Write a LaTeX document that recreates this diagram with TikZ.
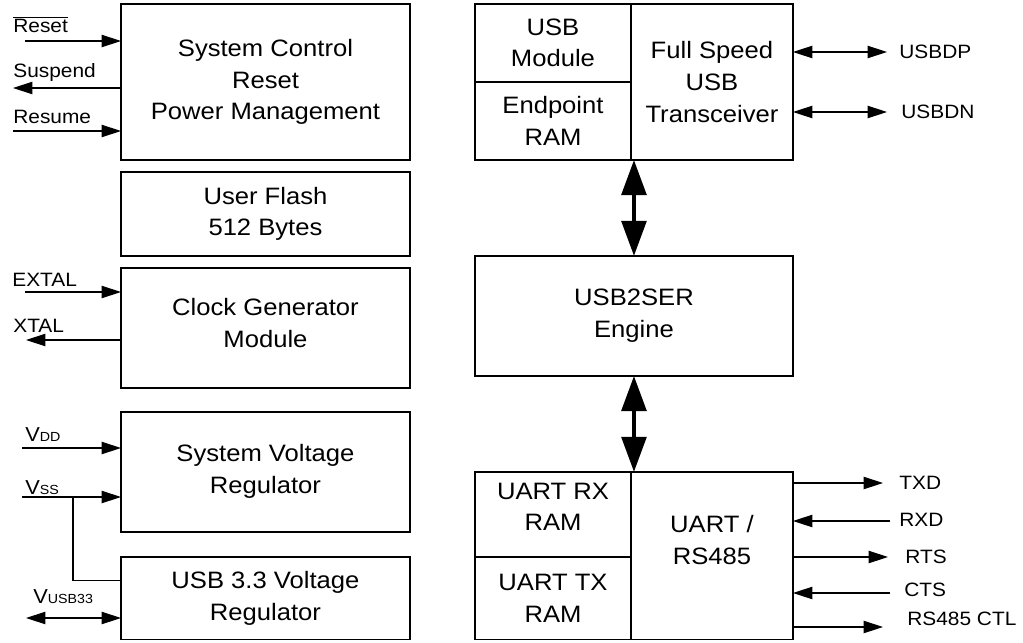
\documentclass[tikz,border=0pt]{standalone}
\usepackage{fontspec}
\setmainfont{Liberation Sans}[FakeStretch=1.08]
\newfontfamily\sigfont{Liberation Sans}[FakeStretch=1.08]
\usepackage{tikz}
\usetikzlibrary{arrows.meta, positioning}
\tikzstyle{blk} = [draw, rectangle, line width=0.7pt, inner sep=0pt, outer sep=0pt,
   align=center, font=\fontsize{13.5}{18}\selectfont]
\tikzstyle{leftBlk} = [blk, minimum width=5.78cm]
\tikzstyle{liftText} = [text depth=#1]
\tikzstyle{sig} = [line width=0.6pt]
\tikzstyle{sigLabel} = [inner sep=0pt, font=\sigfont\fontsize{11}{13}\selectfont]
\tikzstyle{bus} = [line width=2.4pt,
   {Triangle[length=20pt,width=14pt]}-{Triangle[length=20pt,width=14pt]}]
\newcommand{\bigV}[1]{{\fontsize{11.5}{13}\selectfont V}{\fontsize{7.5}{8}\selectfont #1}}

\begin{document}
\begin{tikzpicture}[x=0.02cm, y=-0.02cm, >={Triangle[length=11pt,width=7pt]}]
  \useasboundingbox (0,0) rectangle (1023,642);

  % left column
  \node[leftBlk, anchor=north west, minimum height=3.12cm] (sysctl) at (121,4)
     {System Control\\Reset\\Power Management};
  \node[leftBlk, below=0.24cm of sysctl, minimum height=1.68cm] (flash) {User Flash\\512 Bytes};
  \node[leftBlk, below=0.24cm of flash, minimum height=2.4cm, liftText=0.2cm] (clkgen)
     {Clock Generator\\Module};
  \node[leftBlk, below=0.48cm of clkgen, minimum height=2.4cm, liftText=0.12cm] (sysreg)
     {System Voltage\\Regulator};
  \node[leftBlk, below=0.5cm of sysreg, minimum height=1.66cm] (usbreg) {USB 3.3 Voltage\\Regulator};

  % right column
  \node[blk, anchor=north west, minimum width=3.12cm, minimum height=1.56cm] (usbmod) at (475,4)
     {USB\\Module};
  \node[blk, below=0pt of usbmod, minimum width=3.12cm, minimum height=1.56cm] (eptram) {Endpoint\\RAM};
  \node[blk, right=0pt of usbmod.north east, anchor=north west, minimum width=3.24cm,
     minimum height=3.12cm] (xcvr) {Full Speed\\USB\\Transceiver};
  \node[blk, below=1.92cm of eptram.south west, anchor=north west, minimum width=6.36cm,
     minimum height=2.4cm] (engine) {USB2SER\\Engine};
  \node[blk, below=1.92cm of engine.south west, anchor=north west, minimum width=3.12cm,
     minimum height=1.7cm, liftText=0.3cm] (uartrx) {UART RX\\RAM};
  \node[blk, below=0pt of uartrx, minimum width=3.12cm, minimum height=1.66cm] (uarttx) {UART TX\\RAM};
  \node[blk, right=0pt of uartrx.north east, anchor=north west, minimum width=3.24cm,
     minimum height=3.36cm, liftText=0.64cm] (uart) {UART /\\RS485};

  % internal buses
  \draw[bus] (engine.north |- eptram.south) -- (engine.north);
  \draw[bus] (engine.south) -- (engine.south |- uart.north);

  % free ends of the signals
  \coordinate (rstEnd) at (25,41);
  \coordinate (suspEnd) at (13,88);
  \coordinate (resEnd) at (13,131);
  \coordinate (extalEnd) at (25,292);
  \coordinate (xtalEnd) at (26,340);
  \coordinate (vddEnd) at (22,448);
  \coordinate (vssEnd) at (22,497);
  \coordinate (vssTap) at (73,497);
  \coordinate (vusbEnd) at (26,618);
  \coordinate (dpEnd) at (887,52);
  \coordinate (dnEnd) at (887,112);
  \coordinate (txdEnd) at (883,483);
  \coordinate (rxdEnd) at (890,521);
  \coordinate (rtsEnd) at (888,557);
  \coordinate (ctsEnd) at (890,593);
  \coordinate (ctlEnd) at (883,627);

  % left signals
  \draw[sig,->] (rstEnd) -- (rstEnd -| sysctl.west);
  \draw[sig,->] (suspEnd -| sysctl.west) -- (suspEnd);
  \draw[sig,->] (resEnd) -- (resEnd -| sysctl.west);
  \draw[sig,->] (extalEnd) -- (extalEnd -| clkgen.west);
  \draw[sig,->] (xtalEnd -| clkgen.west) -- (xtalEnd);
  \draw[sig,->] (vddEnd) -- (vddEnd -| sysreg.west);
  \draw[sig,->] (vssEnd) -- (vssEnd -| sysreg.west);
  \draw[sig] (vssTap) |- ([yshift=0.35cm]usbreg.west);
  \draw[sig,<->] (vusbEnd) -- (vusbEnd -| usbreg.west);

  \node[sigLabel, anchor=base west] (rstLbl) at (13,33) {$\overline{\mbox{Reset}}$};
  \node[sigLabel, anchor=base west] (suspLbl) at (13,77) {Suspend};
  \node[sigLabel, anchor=base west] (resLbl) at (13,123) {Resume};
  \node[sigLabel, anchor=base west] (extalLbl) at (12,286) {EXTAL};
  \node[sigLabel, anchor=base west] (xtalLbl) at (13,332) {XTAL};
  \node[sigLabel, anchor=base west] (vddLbl) at (25,441) {\bigV{DD}};
  \node[sigLabel, anchor=base west] (vssLbl) at (25,494) {\bigV{SS}};
  \node[sigLabel, anchor=base west] (vusbLbl) at (33,603) {\bigV{USB33}};

  % right signals
  \draw[sig,<->] (dpEnd -| xcvr.east) -- (dpEnd);
  \draw[sig,<->] (dnEnd -| xcvr.east) -- (dnEnd);
  \draw[sig,->] (txdEnd -| uart.east) -- (txdEnd);
  \draw[sig,->] (rxdEnd) -- (rxdEnd -| uart.east);
  \draw[sig,->] (rtsEnd -| uart.east) -- (rtsEnd);
  \draw[sig,->] (ctsEnd) -- (ctsEnd -| uart.east);
  \draw[sig,->] (ctlEnd -| uart.east) -- (ctlEnd);

  \node[sigLabel, anchor=west] (dpLbl) at (899,52) {USBDP};
  \node[sigLabel, anchor=west] (dnLbl) at (901,112) {USBDN};
  \node[sigLabel, anchor=west] (txdLbl) at (899,483) {TXD};
  \node[sigLabel, anchor=west] (rxdLbl) at (899,520) {RXD};
  \node[sigLabel, anchor=west] (rtsLbl) at (905,557) {RTS};
  \node[sigLabel, anchor=west] (ctsLbl) at (904,590) {CTS};
  \node[sigLabel, anchor=west] (ctlLbl) at (907,619) {RS485 CTL};
\end{tikzpicture}
\end{document}
